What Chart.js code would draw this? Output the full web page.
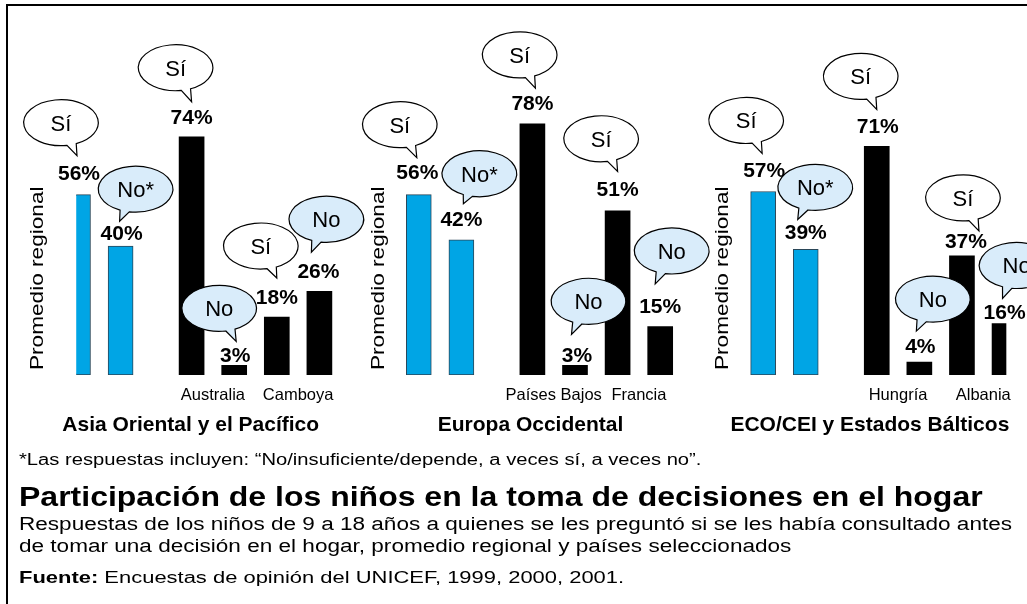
<!DOCTYPE html>
<html><head><meta charset="utf-8">
<script src="https://cdn.jsdelivr.net/npm/chart.js@4.4.1/dist/chart.umd.min.js"></script>
<style>
html,body{margin:0;padding:0;background:#fff;}
body{width:1027px;height:604px;position:relative;overflow:hidden;font-family:"Liberation Sans",Arial,Helvetica,sans-serif;color:#000;}
#frame{position:absolute;left:6px;top:4px;width:1040px;height:620px;border-left:2px solid #000;border-top:2px solid #000;}
canvas{position:absolute;left:0;top:0;}
.t{position:absolute;left:19px;white-space:nowrap;transform-origin:0 50%;}
</style></head><body>
<div id="frame"></div>
<canvas id="c" width="1027" height="604"></canvas>
<div class="t" style="top:451px;font-size:16px;line-height:18px;transform:scaleX(1.262)">*Las respuestas incluyen: “No/insuficiente/depende, a veces sí, a veces no”.</div>
<div class="t" style="top:482px;font-size:27px;line-height:30px;font-weight:bold;transform:scaleX(1.185)">Participación de los niños en la toma de decisiones en el hogar</div>
<div class="t" style="top:513px;font-size:18px;line-height:22px;transform:scaleX(1.253)">Respuestas de los niños de 9 a 18 años a quienes se les preguntó si se les había consultado antes<br>de tomar una decisión en el hogar, promedio regional y países seleccionados</div>
<div class="t" style="top:566px;font-size:17.3px;line-height:22px;transform:scaleX(1.27)"><b>Fuente:</b> Encuestas de opinión del UNICEF, 1999, 2000, 2001.</div>
<script>
// ---- data ----
const panelTitles = ['Asia Oriental y el Pacífico', 'Europa Occidental', 'ECO/CEI y Estados Bálticos'];
const regionalYes = [56, 56, 57];
const regionalNo = [40, 42, 39];
const countryNames = [['Australia', 'Camboya'], ['Países Bajos', 'Francia'], ['Hungría', 'Albania']];
const countryYes = [[74, 18], [78, 51], [71, 37]];
const countryNo = [[3, 26], [3, 15], [4, 16]];
const yesLabel = 'Sí';
const noLabel = 'No';
const noStarLabel = 'No*';
const regionalAxisLabel = 'Promedio regional';

// ---- layout (slot grid, callout offsets) ----
const PANEL_BASE = [0, 96, 193];
const BAR_SLOTS = [0, 12, 32, 44, 56, 68];
const COUNTRY_LABEL_SLOTS = [38, 62];
const TOTAL_SLOTS = 262;
const TITLE_SHIFT = [-8, -9, -14];
// [labelGap, labelDx, bubbleDx, bubbleUp, tailDx, tailUp]
const CALLOUT_LAYOUT = [
  [[22,1,-17,50,-1,17],[14,1,15,43,-1,11],[20,0,-16,49,0,15],[11,1,-15,46,2,13],[21,0,-16,50,0,18],[21,-1,7,51,-8,18]],
  [[23,-1.5,-19,47,-2,14],[21,0,18,45,2,15],[21,0,-12.7,48,3,14.7],[11,2,13.5,53,-3.5,20],[22,0,-16.5,50,0,17.3],[21,0,11.5,54.7,-5,21.7]],
  [[22,1,-17,49,-1,16],[18,0,9.5,44,-8,12],[21,1,-16,49,0,16],[17,1,13.5,46,-3,14],[15,4,1,43,17,10],[12,0,12,46,-2,13]]
];

const FONT = '"Liberation Sans", Arial, Helvetica, sans-serif';
const BLUE = '#00a5e5', BLUE_EDGE = '#2a4658', LIGHT = '#d9ecfa';

const slotLabels = new Array(TOTAL_SLOTS).fill('');
const slotValues = new Array(TOTAL_SLOTS).fill(null);
const slotColors = new Array(TOTAL_SLOTS).fill('#000');
const slotBorder = new Array(TOTAL_SLOTS).fill(0);
const callouts = [];

panelTitles.forEach((t, p) => {
  const base = PANEL_BASE[p];
  const vals = [regionalYes[p], regionalNo[p], countryYes[p][0], countryNo[p][0], countryYes[p][1], countryNo[p][1]];
  const texts = [yesLabel, noStarLabel, yesLabel, noLabel, yesLabel, noLabel];
  vals.forEach((v, k) => {
    const s = base + BAR_SLOTS[k];
    slotValues[s] = v;
    slotColors[s] = k < 2 ? BLUE : '#000';
    slotBorder[s] = k < 2 ? 1 : 0;
    callouts.push({slot: s, value: v, text: texts[k], yes: k % 2 === 0, lay: CALLOUT_LAYOUT[p][k]});
  });
  countryNames[p].forEach((n, c) => { slotLabels[base + COUNTRY_LABEL_SLOTS[c]] = n; });
});

function drawBubble(ctx, cx, cy, tx, ty, fill) {
  const rx = 37.3, ry = 23;
  const th = Math.atan2((ty - cy) / ry, (tx - cx) / rx);
  const d = 0.13;
  ctx.beginPath();
  ctx.ellipse(cx, cy, rx, ry, 0, th + d, th - d + 2 * Math.PI);
  ctx.lineTo(tx, ty);
  ctx.closePath();
  ctx.fillStyle = fill;
  ctx.fill();
  ctx.lineWidth = 1.2;
  ctx.strokeStyle = '#000';
  ctx.stroke();
}

const calloutPlugin = {
  id: 'callouts',
  afterDatasetsDraw(chart) {
    const ctx = chart.ctx;
    const meta = chart.getDatasetMeta(0);
    const xs = chart.scales.x, ys = chart.scales.y;
    ctx.save();
    ctx.fillStyle = '#000';
    ctx.textAlign = 'center';
    ctx.textBaseline = 'alphabetic';
    ctx.font = 'bold 21px ' + FONT;
    callouts.forEach(c => {
      const el = meta.data[c.slot];
      const [lg, ldx] = c.lay;
      ctx.fillStyle = '#000';
      ctx.fillText(c.value + '%', el.x + ldx, el.y - lg + 7.5);
    });
    callouts.forEach(c => {
      const el = meta.data[c.slot];
      const [lg, ldx, bdx, bup, tdx, tup] = c.lay;
      const ly = el.y - lg;
      const cx = el.x + bdx, cy = ly - bup;
      drawBubble(ctx, cx, cy, el.x + tdx, ly - tup, c.yes ? '#fff' : LIGHT);
      ctx.fillStyle = '#000';
      ctx.font = '22px ' + FONT;
      ctx.textAlign = 'center';
      ctx.fillText(c.text, cx, cy + 8);
    });
    const y0 = ys.getPixelForValue(0);
    panelTitles.forEach((t, p) => {
      const base = PANEL_BASE[p];
      const first = xs.getPixelForValue(base + BAR_SLOTS[0]);
      const last = xs.getPixelForValue(base + BAR_SLOTS[5]);
      ctx.save();
      ctx.translate(first - 40, y0 - 5);
      ctx.rotate(-Math.PI / 2);
      ctx.scale(1.19, 1);
      ctx.font = '19px ' + FONT;
      ctx.textAlign = 'left';
      ctx.textBaseline = 'middle';
      ctx.fillStyle = '#000';
      ctx.fillText(regionalAxisLabel, 0, 0);
      ctx.restore();
      ctx.font = 'bold 21px ' + FONT;
      ctx.textAlign = 'center';
      ctx.textBaseline = 'alphabetic';
      ctx.fillStyle = '#000';
      ctx.fillText(t, (first + last) / 2 + TITLE_SHIFT[p], y0 + 48 + 7.5);
    });
    ctx.restore();
  }
};

new Chart(document.getElementById('c'), {
  type: 'bar',
  data: {
    labels: slotLabels,
    datasets: [{
      data: slotValues,
      backgroundColor: slotColors,
      borderColor: BLUE_EDGE,
      borderWidth: slotBorder,
      borderSkipped: false,
      barThickness: 25
    }]
  },
  options: {
    responsive: false,
    animation: false,
    devicePixelRatio: 1,
    layout: {padding: {left: 76.225, right: 20.675, top: 53, bottom: 0}},
    plugins: {legend: {display: false}, tooltip: {enabled: false}, title: {display: false}},
    scales: {
      x: {
        type: 'category',
        offset: true,
        grid: {display: false, drawTicks: false},
        border: {display: false},
        ticks: {autoSkip: false, maxRotation: 0, minRotation: 0, padding: 11,
          color: '#000', font: {family: FONT, size: 16.5}},
        afterFit: (scale) => { scale.height = 229; }
      },
      y: {display: false, min: 0, max: 100}
    }
  },
  plugins: [calloutPlugin]
});
</script>
</body></html>
